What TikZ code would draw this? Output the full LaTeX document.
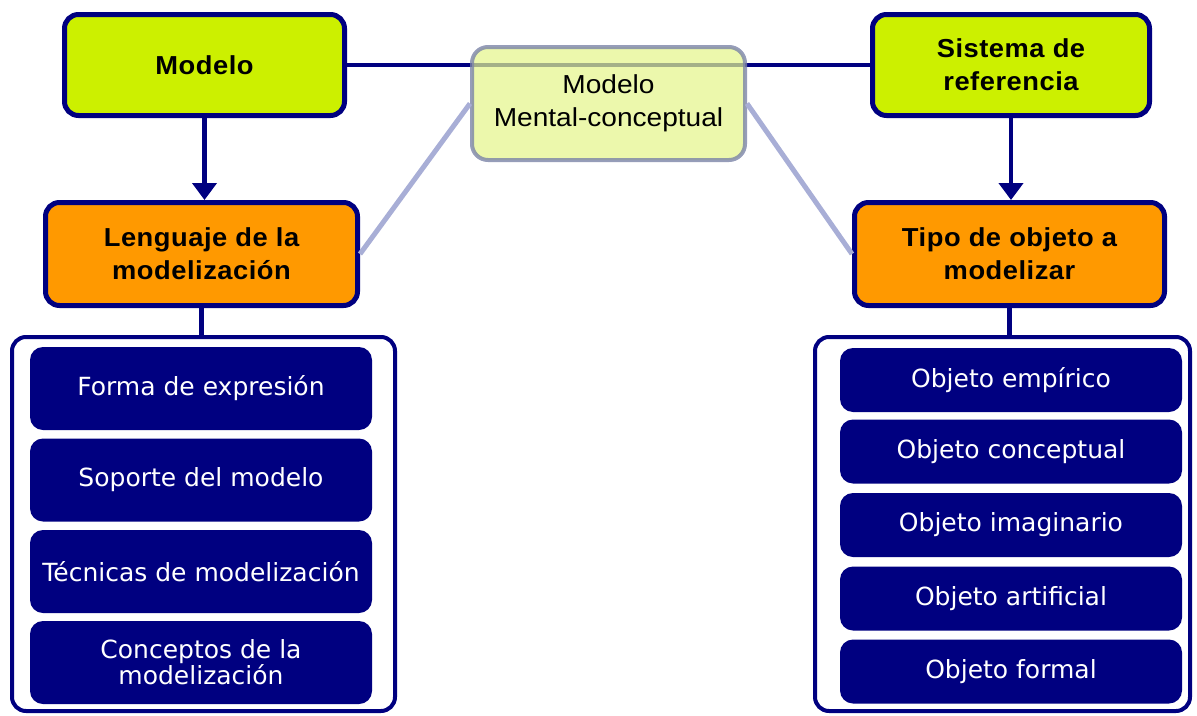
\documentclass[tikz,border=0pt]{standalone}
\usepackage{fontspec}
\setmainfont{Liberation Sans}
\newfontfamily\headfont[FakeStretch=1.05,LetterSpace=2]{Liberation Sans}
\newfontfamily\mentalfont[FakeStretch=1.08]{Liberation Sans}
\newfontfamily\itemfont{DejaVu Sans}
\usetikzlibrary{arrows.meta}
\definecolor{topgreen}{HTML}{CCF000}
\definecolor{midorange}{HTML}{FF9900}
\definecolor{deepnavy}{HTML}{000080}
\definecolor{paleblue}{HTML}{A8AED6}
\definecolor{mentalfill}{HTML}{E4F58C}
\definecolor{mentaledge}{HTML}{7C84A8}
\tikzset{
	topbox/.style={draw=deepnavy, line width=5pt, rounded corners=14pt, align=center,
		minimum width=280, minimum height=101, font=\headfont\bfseries\fontsize{26}{33}\selectfont},
	itembox/.style={fill=deepnavy, rounded corners=13pt, minimum width=342, align=center,
		text=white, font=\itemfont\fontsize{25}{26}\selectfont},
	listbox/.style={draw=deepnavy, fill=white, line width=4pt, rounded corners=14pt,
		minimum width=383, minimum height=374},
	navyline/.style={draw=deepnavy, line width=4.5pt},
	paleline/.style={draw=paleblue, line width=5pt}
}

\begin{document}
\begin{tikzpicture}[x=1pt,y=-1pt]
		%%%%% START %%%%%
		\useasboundingbox (0,0) rectangle (1197,715);
		
		\node[topbox, fill=topgreen] (modelo) at (204.5,65) {Modelo};
		\node[topbox, fill=topgreen, minimum width=277] (sistema) at (1011,65) {Sistema de\\referencia};
		\node[topbox, fill=midorange, minimum width=312, minimum height=103] (lenguaje) at (201.5,254) {Lenguaje de la\\modelización};
		\node[topbox, fill=midorange, minimum width=310, minimum height=103] (tipo) at (1009.5,254) {Tipo de objeto a\\modelizar};
		
		\draw[navyline] (modelo) -- (sistema);
		\draw[navyline, -{Triangle[width=24pt,length=17pt]}] (modelo.south) -- (modelo.south |- lenguaje.north);
		\draw[navyline, -{Triangle[width=24pt,length=17pt]}] (sistema.south) -- (sistema.south |- tipo.north);
		
		% mental box lies over the top line
		\node[draw=mentaledge, draw opacity=0.8, fill=mentalfill, fill opacity=0.72, text opacity=1,
			line width=4pt, rounded corners=16pt, minimum width=273, minimum height=113, align=center,
			font=\mentalfont\fontsize{26}{33}\selectfont] (mental) at (608.5,103.5) {Modelo\\Mental-conceptual};
		\draw[paleline] (mental.west) -- (lenguaje.east);
		\draw[paleline] (mental.east) -- (tipo.west);
		
		\node[listbox] (leftlist) at (203.5,524) {};
		\node[listbox, minimum width=375] (rightlist) at (1002.5,524) {};
		\draw[navyline] (lenguaje.south) -- (lenguaje.south |- leftlist.north);
		\draw[navyline] (tipo.south) -- (tipo.south |- rightlist.north);
		
		\foreach \y/\txt [count=\i] in {388.5/Forma de expresión, 480/Soporte del modelo,
			571.5/Técnicas de modelización, 662.5/{Conceptos de la\\modelización}}
			\node[itembox, minimum height=83] (left\i) at (201,\y) {\txt};
		
		\foreach \y/\txt [count=\i] in {380/Objeto empírico, 451.5/Objeto conceptual,
			525/Objeto imaginario, 598.5/Objeto artificial, 671.5/Objeto formal}
			\node[itembox, minimum height=64] (right\i) at (1011,\y) {\txt};
		%%%%% END %%%%%
\end{tikzpicture}
\end{document}
